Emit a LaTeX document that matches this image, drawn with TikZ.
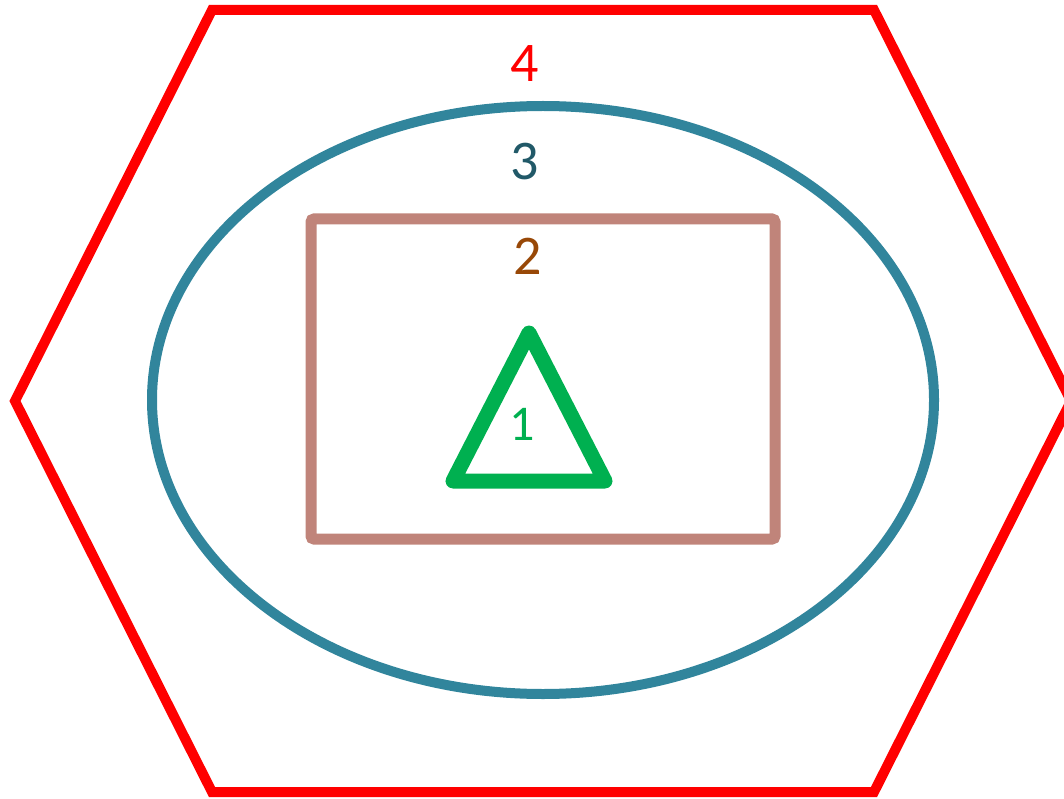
\documentclass[tikz,border=0pt]{standalone}
\usepackage{fontspec}
\setmainfont{Carlito}
\definecolor{hexred}{HTML}{FF0000}
\definecolor{elteal}{HTML}{31859C}
\definecolor{darkteal}{HTML}{215968}
\definecolor{rectrose}{HTML}{C0847A}
\definecolor{darkorange}{HTML}{984807}
\definecolor{trigreen}{HTML}{00B050}
\tikzset{
  lbl/.style={anchor=base, inner sep=0pt, font=\fontsize{56}{60}\selectfont},
}
\begin{document}
\begin{tikzpicture}[x=1pt,y=-1pt]
\useasboundingbox (0,0) rectangle (1064,799);
% hexagon
\draw[hexred, line width=10pt, line join=miter]
  (212,10) -- (874,10) -- (1071,401) -- (874,792) -- (212,792) -- (15,401) -- cycle;
% ellipse
\draw[elteal, line width=10pt] (543,400) ellipse [x radius=391, y radius=294];
% rectangle
\draw[rectrose, line width=11pt, rounded corners=3pt] (311,219) rectangle (775,539);
% triangle
\draw[trigreen, line width=15pt, line join=round, line cap=round]
  (529,333) -- (605,481) -- (453,481) -- cycle;
% labels
\node[lbl, text=hexred] (l4) at (525,82) {4};
\node[lbl, text=darkteal] (l3) at (525,180) {3};
\node[lbl, text=darkorange] (l2) at (528,275) {2};
\node[lbl, text=trigreen, font=\fontsize{50}{54}\selectfont] (l1) at (522,440) {1};
\end{tikzpicture}
\end{document}
